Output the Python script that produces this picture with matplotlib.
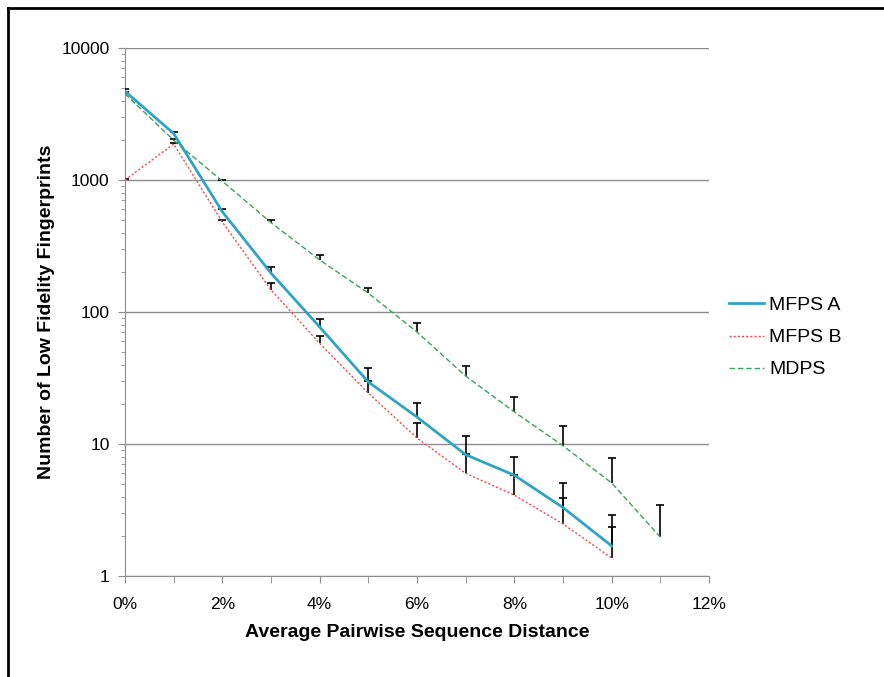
import numpy as np
import matplotlib
matplotlib.use('Agg')
import matplotlib.pyplot as plt
from matplotlib.ticker import FixedLocator, FuncFormatter, LogLocator, NullFormatter

plt.rcParams['font.family'] = ['Liberation Sans', 'DejaVu Sans']

# Distance (fraction) for each point
dist_a = [0.00, 0.01, 0.02, 0.03, 0.04, 0.05, 0.06, 0.07, 0.08, 0.09, 0.10]
dist_b = [0.00, 0.01, 0.02, 0.03, 0.04, 0.05, 0.06, 0.07, 0.08, 0.09, 0.10]
dist_d = [0.00, 0.01, 0.02, 0.03, 0.04, 0.05, 0.06, 0.07, 0.08, 0.09, 0.10, 0.11]

# Number of low fidelity fingerprints
mfps_a = [4700, 2250, 575, 197, 77, 29.5, 16.0, 8.3, 5.8, 3.3, 1.69]
mfps_b = [1000, 1875, 480, 147, 58, 24.3, 11.1, 6.0, 4.1, 2.48, 1.37]
mdps = [4500, 2000, 980, 475, 248, 139, 70.5, 32.7, 17.5, 9.7, 5.07, 1.97]

# Upper error bars
err_a = [150, 60, 30, 22, 11.5, 8.0, 4.5, 3.2, 2.2, 1.75, 1.2]
err_b = [20, 30, 20, 19, 8.0, 5.7, 3.3, 2.4, 1.7, 1.4, 1.0]
err_d = [150, 50, 20, 20, 22, 13, 12, 6.3, 5.2, 4.0, 2.8, 1.5]

fig = plt.figure(figsize=(8.84, 6.77), dpi=100)
ax = fig.add_axes([125 / 884, 1 - 576 / 677, (709 - 125) / 884, (576 - 48) / 677])

ax.set_yscale('log')
ax.set_ylim(1, 10000)
ax.set_xlim(0, 0.12)

ax.grid(True, axis='y', which='major', color='#8c8c8c', linewidth=1.0)
ax.set_axisbelow(True)

# error bars (upper side only, cap on top)
for xs, ys, es in [(dist_a, mfps_a, err_a), (dist_b, mfps_b, err_b), (dist_d, mdps, err_d)]:
    tops = np.array(ys) + np.array(es)
    ax.vlines(xs, ys, tops, colors='black', linewidth=1.2, zorder=3)
    ax.plot(xs, tops, linestyle='none', marker='_', markersize=6, markeredgewidth=1.2,
            color='black', zorder=3)

ax.plot(dist_a, mfps_a, color='#2fa3c6', linewidth=2, label='MFPS A', zorder=4)
ax.plot(dist_b, mfps_b, color='#f0484a', linewidth=1, linestyle=(0, (1.5, 1.5)), label='MFPS B', zorder=4)
ax.plot(dist_d, mdps, color='#3aa35a', linewidth=1, linestyle=(0, (4, 2)), label='MDPS', zorder=4)

for s in ['top', 'right']:
    ax.spines[s].set_visible(False)
for s in ['left', 'bottom']:
    ax.spines[s].set_color('#8c8c8c')

ax.xaxis.set_major_locator(FixedLocator(np.arange(0, 0.121, 0.02)))
ax.xaxis.set_minor_locator(FixedLocator(np.arange(0.01, 0.12, 0.02)))
ax.xaxis.set_major_formatter(FuncFormatter(lambda v, p: f'{v * 100:.0f}%'))
ax.yaxis.set_major_formatter(FuncFormatter(lambda v, p: f'{v:.0f}'))
ax.yaxis.set_minor_locator(LogLocator(base=10, subs=np.arange(2, 10)))
ax.yaxis.set_minor_formatter(NullFormatter())

ax.tick_params(axis='both', which='major', length=5, color='#8c8c8c', labelsize=12.5)
ax.tick_params(axis='x', which='major', pad=10)
ax.tick_params(axis='y', which='major', pad=6)
ax.tick_params(axis='both', which='minor', length=5, color='#8c8c8c')
ax.tick_params(axis='y', which='minor', length=3)

ax.set_xlabel('Average Pairwise Sequence Distance', fontsize=14, fontweight='bold', labelpad=9)
ax.set_ylabel('Number of Low Fidelity Fingerprints', fontsize=14, fontweight='bold', labelpad=5)

leg = fig.legend(loc='upper left', bbox_to_anchor=(711 / 884, 1 - 279 / 677), frameon=False,
                 fontsize=14, handlelength=1.8, handletextpad=0.3, labelspacing=0.75)

# outer frame (left and top edges)
fig.add_artist(plt.Line2D([8 / 884, 8 / 884], [0, 1 - 8 / 677], color='black', linewidth=2,
                          transform=fig.transFigure))
fig.add_artist(plt.Line2D([8 / 884, 1], [1 - 8 / 677, 1 - 8 / 677], color='black', linewidth=2,
                          transform=fig.transFigure))

fig.savefig('out.png', dpi=100)
